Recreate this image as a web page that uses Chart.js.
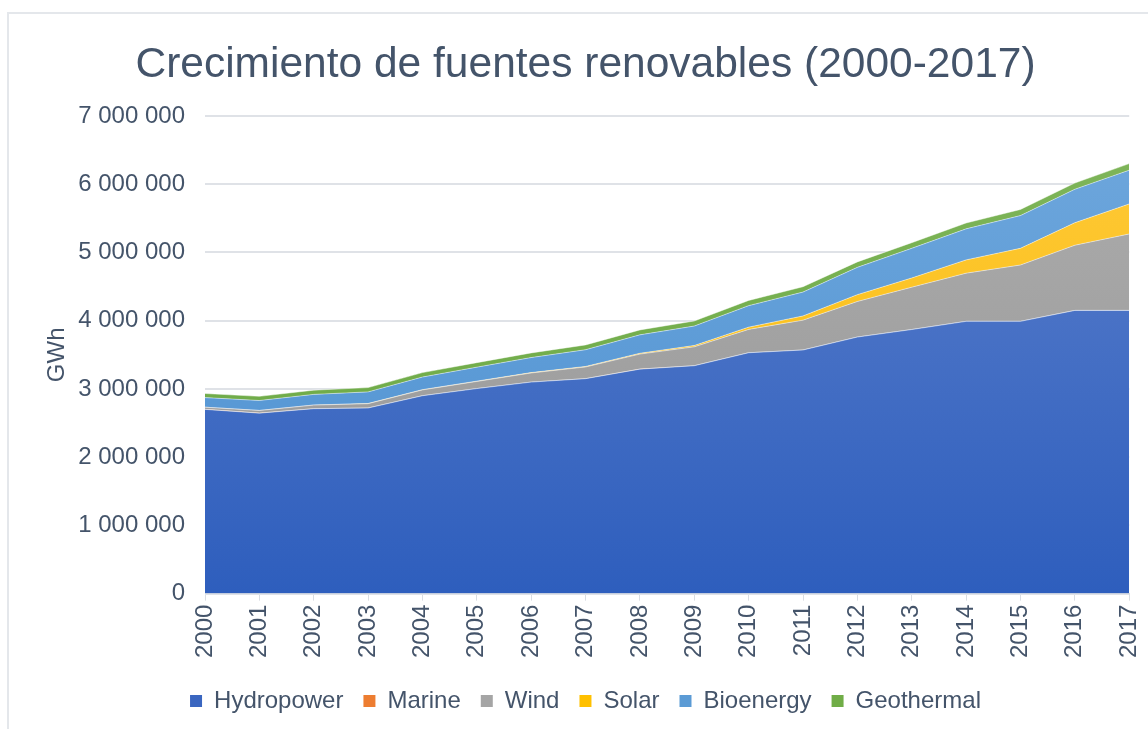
<!DOCTYPE html>
<html>
<head>
<meta charset="utf-8">
<script src="https://cdn.jsdelivr.net/npm/chart.js@4"></script>
<style>
  html, body { margin: 0; padding: 0; background: #fff; overflow: hidden; }
  #frame {
    position: absolute; left: 7px; top: 12px; width: 1200px; height: 760px;
    border-left: 2px solid #e4e7eb; border-top: 2px solid #e4e7eb;
  }
  #wrap { position: absolute; left: 9px; top: 14px; width: 1153px; height: 740px; }
</style>
</head>
<body>
<div id="frame"></div>
<div id="wrap"><canvas id="myChart"></canvas></div>
<script>
var years = ["2000", "2001", "2002", "2003", "2004", "2005", "2006", "2007", "2008",
             "2009", "2010", "2011", "2012", "2013", "2014", "2015", "2016", "2017"];

// GWh
var hydropower = [2700000, 2645000, 2710000, 2720000, 2900000, 3005000, 3100000, 3150000, 3290000,
                  3340000, 3530000, 3570000, 3760000, 3870000, 3990000, 3990000, 4150000, 4150000];
var marine = [600, 600, 600, 600, 600, 600, 600, 600, 600,
              600, 600, 700, 800, 1000, 1000, 1000, 1000, 1000];
var wind = [31000, 38000, 52000, 63000, 85000, 104000, 133000, 171000, 220000,
            276000, 342000, 437000, 521000, 620000, 705000, 825000, 955000, 1120000];
var solar = [1000, 1500, 2000, 3000, 3500, 4500, 6000, 8000, 12000,
             20000, 33000, 62000, 100000, 135000, 195000, 245000, 330000, 440000];
var bioenergy = [140000, 145000, 155000, 170000, 185000, 205000, 220000, 245000, 270000,
                 285000, 315000, 350000, 400000, 435000, 455000, 480000, 490000, 495000];
var geothermal = [60000, 61000, 62000, 63000, 65000, 66000, 68000, 70000, 72000,
                  74000, 76000, 78000, 80000, 82000, 86000, 89000, 92000, 96000];

var seriesNames = ["Hydropower", "Marine", "Wind", "Solar", "Bioenergy", "Geothermal"];
var seriesData = [hydropower, marine, wind, solar, bioenergy, geothermal];
var topColors = ["#5c80cc", "#f08a40", "#adadad", "#ffca3c", "#70a8dd", "#80b65c"];
var bottomColors = ["#2e5ebd", "#e8711f", "#969696", "#f7b900", "#4a8fd0", "#66a53d"];
var legendColors = ["#3a66c0", "#ed7d31", "#a5a5a5", "#ffc000", "#5b9bd5", "#70ad47"];

var textColor = "#44546a";

function fillFor(i) {
  return function (ctx) {
    var chart = ctx.chart;
    var area = chart.chartArea;
    if (!area) return legendColors[i];
    var g = chart.ctx.createLinearGradient(0, area.top, 0, area.bottom);
    g.addColorStop(0, topColors[i]);
    g.addColorStop(1, bottomColors[i]);
    return g;
  };
}

function spaced(v) {
  return String(v).replace(/\B(?=(\d{3})+(?!\d))/g, " ");
}

var datasets = seriesNames.map(function (name, i) {
  return {
    label: name,
    data: seriesData[i],
    backgroundColor: fillFor(i),
    borderColor: "rgba(255,255,255,0.45)",
    borderWidth: 1,
    fill: i === 0 ? "origin" : "-1",
    pointRadius: 0,
    tension: 0
  };
});

Chart.defaults.font.family = "'Liberation Sans', Arial, sans-serif";
Chart.defaults.color = textColor;

new Chart("myChart", {
  type: "line",
  data: { labels: years, datasets: datasets },
  options: {
    responsive: true,
    maintainAspectRatio: false,
    animation: false,
    layout: { padding: { left: 28, right: 28, top: 0, bottom: 31 } },
    plugins: {
      title: {
        display: true,
        text: "Crecimiento de fuentes renovables (2000-2017)",
        color: textColor,
        font: { size: 42.5, weight: "normal" },
        padding: { top: 26, bottom: 25 }
      },
      legend: {
        position: "bottom",
        labels: {
          boxWidth: 12,
          boxHeight: 12,
          padding: 20,
          color: textColor,
          font: { size: 24 },
          generateLabels: function (chart) {
            return chart.data.datasets.map(function (ds, i) {
              return {
                text: ds.label,
                fillStyle: legendColors[i],
                strokeStyle: legendColors[i],
                lineWidth: 0,
                datasetIndex: i,
                fontColor: textColor
              };
            });
          }
        }
      },
      tooltip: { enabled: false }
    },
    scales: {
      x: {
        afterFit: function (scale) { scale.height += 7; },
        grid: { drawOnChartArea: false, drawTicks: true, tickLength: 7, color: "#d9dde3" },
        border: { color: "#d9dde3" },
        ticks: { maxRotation: 90, minRotation: 90, color: textColor, font: { size: 24 }, padding: 4 }
      },
      y: {
        stacked: true,
        min: 0,
        max: 7000000,
        afterFit: function (scale) { scale.width = 168; },
        grid: { color: "#dfe2e7", lineWidth: 2, drawTicks: false },
        border: { display: false },
        ticks: { stepSize: 1000000, color: textColor, font: { size: 24 }, padding: 20,
                 callback: function (v) { return spaced(v); } },
        title: { display: true, text: "GWh", color: textColor, font: { size: 24 },
                 padding: { top: 6, bottom: 6 } }
      }
    }
  }
});
</script>
</body>
</html>
